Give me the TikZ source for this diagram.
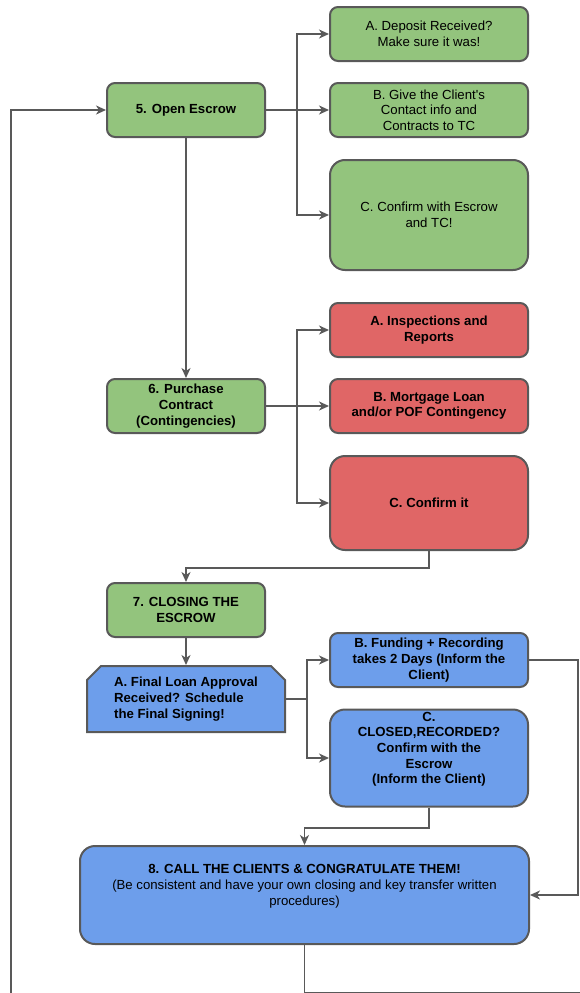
\documentclass[tikz,border=0pt]{standalone}
\usepackage{fontspec}
\setmainfont{Liberation Sans}
\usetikzlibrary{positioning,arrows.meta,shapes.misc}
\definecolor{stepgreen}{HTML}{93C47D}
\definecolor{stepred}{HTML}{E06666}
\definecolor{stepblue}{HTML}{6D9EEB}
\definecolor{edgegray}{HTML}{595959}
\tikzset{
every path/.style={line width=1.8pt}
, every node/.style={font=\fontsize{13.2}{15.7}\selectfont, align=center}
, boldtext/.style={font=\fontsize{13.2}{15.7}\selectfont\bfseries}
, stepbox/.style={draw=edgegray, line width=2pt, rounded corners=8pt, inner sep=2pt, minimum width=158pt, minimum height=54pt, fill=stepgreen}
, subbox/.style={draw=edgegray, line width=2pt, rounded corners=8pt, inner sep=2pt, minimum width=198pt, minimum height=54pt}
, bigbox/.style={subbox, rounded corners=15pt}
, cutbox/.style={chamfered rectangle, chamfered rectangle corners={north west,north east}, chamfered rectangle sep=7pt, draw=edgegray, line width=2pt, inner sep=2pt, minimum width=198pt, minimum height=66pt}
, flow/.style={draw=edgegray, -{Stealth[length=10pt,width=9pt,inset=3pt]}}}

\begin{document}
\begin{tikzpicture}[x=1pt, y=-1pt]
\useasboundingbox (0,0) rectangle (580,993);
\node[stepbox, boldtext] (open) at (186,110) {5. Open Escrow};
\node[subbox, fill=stepgreen] (depA) at (429,34) {A. Deposit Received?\\Make sure it was!};
\node[subbox, fill=stepgreen] (depB) at (429,110) {B. Give the Client\textquotesingle s\\Contact info and\\Contracts to TC};
\node[bigbox, fill=stepgreen, minimum height=110pt] (depC) at (429,215) {C. Confirm with Escrow\\and TC!};
\node[stepbox, boldtext] (purch) at (186,406) {6. Purchase\\Contract\\(Contingencies)};
\node[subbox, boldtext, fill=stepred] (inspA) at (429,330) {A. Inspections and\\Reports};
\node[subbox, boldtext, fill=stepred] (mortB) at (429,406) {B. Mortgage Loan\\and/or POF Contingency};
\node[bigbox, boldtext, fill=stepred, minimum height=94pt] (confC) at (429,503) {C. Confirm it};
\node[stepbox, boldtext] (close) at (186,610) {7. CLOSING THE\\ESCROW};
\node[cutbox, boldtext, fill=stepblue, align=left] (loanA) at (186,699) {A. Final Loan Approval\\Received? Schedule\\the Final Signing!};
\node[subbox, boldtext, fill=stepblue] (fundB) at (429,660) {B. Funding + Recording\\takes 2 Days (Inform the\\Client)};
\node[bigbox, boldtext, fill=stepblue, minimum height=97pt] (closedC) at (429,758) {C.\\CLOSED,RECORDED?\\Confirm with the\\Escrow\\(Inform the Client)\\\strut};
\node[bigbox, fill=stepblue, minimum width=449pt, minimum height=98pt] (call) at (304.5,895) {\textbf{8. CALL THE CLIENTS \& CONGRATULATE THEM!}\\(Be consistent and have your own closing and key transfer written\\procedures)\\\strut};
\coordinate (trunk5) at (297,110);
\coordinate (trunk6) at (297,406);
\coordinate (trunk7) at (307,699);
\coordinate (sideR) at (578,660);
\coordinate (loopR) at (700,993.0);
\coordinate (loopL) at (11,1100);
\draw [flow] (open.east) -- (trunk5) |- (depA.west);
\draw [flow] (trunk5) -- (depB.west);
\draw [flow] (trunk5) |- (depC.west);
\draw [flow] (open.south) -- (purch.north);
\draw [flow] (purch.east) -- (trunk6) |- (inspA.west);
\draw [flow] (trunk6) -- (mortB.west);
\draw [flow] (trunk6) |- (confC.west);
\draw [flow] (confC.south) -- ++(0,17) -| (close.north);
\draw [flow] (close.south) -- (loanA.north);
\draw [flow] (loanA.east) -- (trunk7) |- (fundB.west);
\draw [flow] (trunk7) |- (closedC.west);
\draw [flow] (fundB.east) -- (sideR) |- (call.east);
\draw [flow] (closedC.south) -- ++(0,20.5) -| (call.north);
\draw [flow] (call.south) |- (loopR) |- (loopL) |- (open.west);
\end{tikzpicture}
\end{document}
